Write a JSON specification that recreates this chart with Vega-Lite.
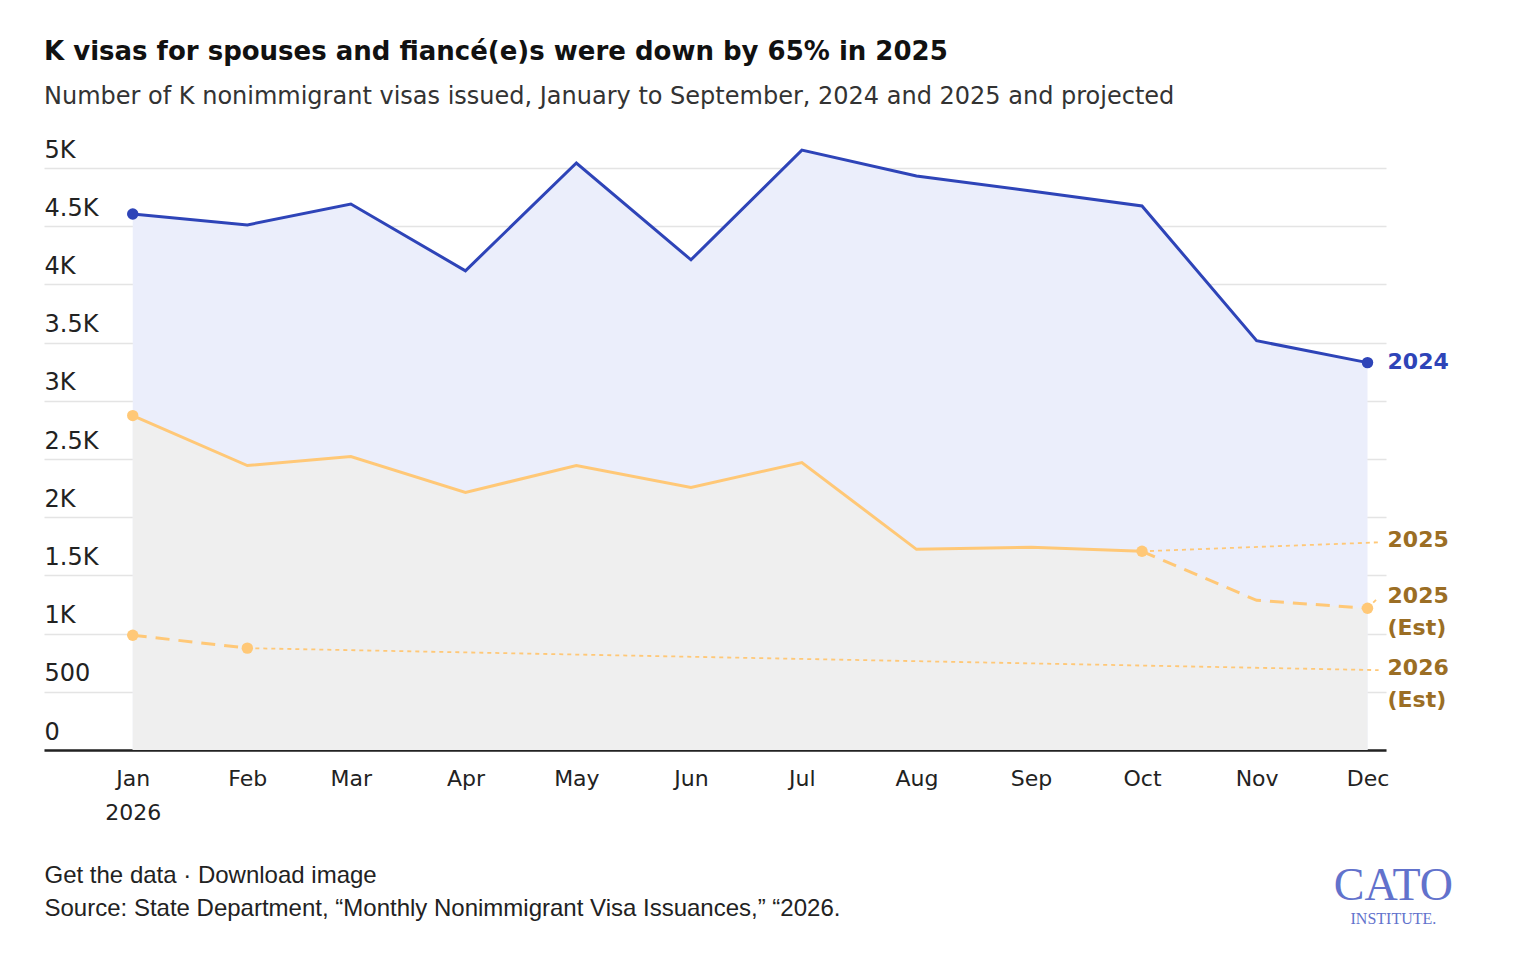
{
  "$schema": "https://vega.github.io/schema/vega-lite/v6.json",
  "width": 1342,
  "height": 582,
  "autosize": {"type": "none"},
  "padding": {"left": 44, "top": 168, "right": 130, "bottom": 224},
  "background": "white",
  "config": {
    "view": {"stroke": null},
    "font": "DejaVu Sans",
    "title": {"font": "DejaVu Sans", "color": "#111111"}
  },
  "title": {
    "text": "K visas for spouses and fiancé(e)s were down by 65% in 2025",
    "subtitle": "Number of K nonimmigrant visas issued, January to September, 2024 and 2025 and projected",
    "anchor": "start",
    "frame": "group",
    "fontSize": 26,
    "fontWeight": "bold",
    "subtitleFontSize": 24,
    "subtitleFont": "DejaVu Sans",
    "subtitleColor": "#333333",
    "subtitlePadding": 20,
    "offset": 29
  },
  "data": {
    "values": [
      {"date": "2026/01/01", "value": 4605, "series": "2024"},
      {"date": "2026/02/01", "value": 4511, "series": "2024"},
      {"date": "2026/03/01", "value": 4691, "series": "2024"},
      {"date": "2026/04/01", "value": 4117, "series": "2024"},
      {"date": "2026/05/01", "value": 5043, "series": "2024"},
      {"date": "2026/06/01", "value": 4211, "series": "2024"},
      {"date": "2026/07/01", "value": 5154, "series": "2024"},
      {"date": "2026/08/01", "value": 4931, "series": "2024"},
      {"date": "2026/09/01", "value": 4803, "series": "2024"},
      {"date": "2026/10/01", "value": 4674, "series": "2024"},
      {"date": "2026/11/01", "value": 3516, "series": "2024"},
      {"date": "2026/12/01", "value": 3328, "series": "2024"},
      {"date": "2026/01/01", "value": 2873, "series": "2025"},
      {"date": "2026/02/01", "value": 2444, "series": "2025"},
      {"date": "2026/03/01", "value": 2521, "series": "2025"},
      {"date": "2026/04/01", "value": 2213, "series": "2025"},
      {"date": "2026/05/01", "value": 2444, "series": "2025"},
      {"date": "2026/06/01", "value": 2256, "series": "2025"},
      {"date": "2026/07/01", "value": 2470, "series": "2025"},
      {"date": "2026/08/01", "value": 1724, "series": "2025"},
      {"date": "2026/09/01", "value": 1741, "series": "2025"},
      {"date": "2026/10/01", "value": 1707, "series": "2025"},
      {"date": "2026/10/01", "value": 1707, "series": "2025est"},
      {"date": "2026/11/01", "value": 1286, "series": "2025est"},
      {"date": "2026/12/01", "value": 1218, "series": "2025est"},
      {"date": "2026/01/01", "value": 986, "series": "2026est"},
      {"date": "2026/02/01", "value": 875, "series": "2026est"},
      {"date": "2026/10/01", "value": 1707, "series": "2025trend"},
      {"date": "2026/12/04", "value": 1784, "series": "2025trend"},
      {"date": "2026/02/01", "value": 875, "series": "2026trend"},
      {"date": "2026/12/04", "value": 686, "series": "2026trend"},
      {"date": "2026/12/01", "value": 1218, "series": "2025conn"},
      {"date": "2026/12/04", "value": 1312, "series": "2025conn"}
    ]
  },
  "encoding": {
    "x": {
      "field": "date",
      "type": "temporal",
      "scale": {
        "domain": [{"year": 2025, "month": 12, "date": 8}, {"year": 2026, "month": 12, "date": 6}]
      },
      "axis": {
        "tickCount": {"interval": "month", "step": 1},
        "labelExpr": "month(datum.value) == 0 ? ['Jan', '2026'] : timeFormat(datum.value, '%b')",
        "labelFontSize": 22,
        "labelColor": "#222222",
        "labelLineHeight": 34,
        "labelPadding": 18,
        "labelFlush": false,
        "labelOverlap": false,
        "ticks": false,
        "grid": false,
        "domainColor": "#222222",
        "domainWidth": 2.5,
        "title": ["Get the data  ·  Download image", "Source: State Department, “Monthly Nonimmigrant Visa Issuances,” “2026."],
        "titleFont": "Liberation Sans",
        "titleFontSize": 24,
        "titleFontWeight": "normal",
        "titleColor": "#222222",
        "titleAnchor": "start",
        "titleAlign": "left",
        "titleBaseline": "middle",
        "titleLineHeight": 33,
        "titleX": 0,
        "titleY": 125
      }
    },
    "y": {
      "field": "value",
      "type": "quantitative",
      "scale": {"domain": [0, 5000]},
      "axis": {
        "values": [0, 500, 1000, 1500, 2000, 2500, 3000, 3500, 4000, 4500, 5000],
        "labelExpr": "datum.value >= 1000 ? format(datum.value / 1000, '~g') + 'K' : datum.label",
        "labelAlign": "left",
        "labelBaseline": "alphabetic",
        "labelOffset": -11,
        "labelPadding": 0,
        "labelFontSize": 24,
        "labelColor": "#222222",
        "ticks": false,
        "domain": false,
        "gridColor": "#e4e4e4",
        "gridWidth": 1.5,
        "title": null
      }
    }
  },
  "layer": [
    {
      "transform": [{"filter": "datum.series == '2024'"}],
      "mark": {"type": "area", "color": "#EBEEFB"}
    },
    {
      "transform": [{"filter": "datum.series == '2025' || (datum.series == '2025est' && month(datum.date) != 9)"}],
      "mark": {"type": "area", "color": "#EFEFEF"}
    },
    {
      "transform": [{"filter": "datum.series == '2024'"}],
      "mark": {"type": "line", "color": "#2E44B8", "strokeWidth": 3}
    },
    {
      "transform": [{"filter": "datum.series == '2025'"}],
      "mark": {"type": "line", "color": "#FFC877", "strokeWidth": 3}
    },
    {
      "transform": [{"filter": "datum.series == '2025est' || datum.series == '2026est'"}],
      "mark": {"type": "line", "color": "#FFC877", "strokeWidth": 3, "strokeDash": [14, 9]},
      "encoding": {"detail": {"field": "series"}}
    },
    {
      "transform": [{"filter": "indexof(['2025trend', '2026trend', '2025conn'], datum.series) >= 0"}],
      "mark": {"type": "line", "color": "#FFC877", "strokeWidth": 1.8, "strokeDash": [4, 4]},
      "encoding": {"detail": {"field": "series"}}
    },
    {
      "transform": [{"filter": "datum.series == '2024' && (month(datum.date) == 0 || month(datum.date) == 11)"}],
      "mark": {"type": "circle", "color": "#2E44B8", "size": 130, "opacity": 1}
    },
    {
      "transform": [{"filter": "(datum.series == '2025' && (month(datum.date) == 0 || month(datum.date) == 9)) || (datum.series == '2025est' && month(datum.date) == 11) || datum.series == '2026est'"}],
      "mark": {"type": "circle", "color": "#FFC877", "size": 130, "opacity": 1}
    },
    {
      "data": {
        "values": [
          {"date": "2026/12/01", "value": 3336, "label": "2024", "group": "a"},
          {"date": "2026/12/01", "value": 1800, "label": "2025", "group": "b"},
          {"date": "2026/12/01", "value": 1320, "label": "2025\n(Est)", "group": "b"},
          {"date": "2026/12/01", "value": 703, "label": "2026\n(Est)", "group": "b"}
        ]
      },
      "mark": {"type": "text", "align": "left", "baseline": "middle", "dx": 20, "fontSize": 22, "fontWeight": "bold", "lineBreak": "\n", "lineHeight": 32},
      "encoding": {
        "text": {"field": "label"},
        "color": {"field": "group", "type": "nominal", "scale": {"domain": ["a", "b"], "range": ["#2E44B8", "#9B6E24"]}, "legend": null}
      }
    },
    {
      "data": {
        "values": [
          {"date": "2026/12/08", "value": -1172, "label": "CATO", "kind": "big"},
          {"date": "2026/12/08", "value": -1455, "label": "INSTITUTE.", "kind": "small"}
        ]
      },
      "mark": {"type": "text", "align": "center", "baseline": "middle", "font": "Liberation Serif", "color": "#6272CC"},
      "encoding": {
        "text": {"field": "label"},
        "size": {"field": "kind", "type": "nominal", "scale": {"domain": ["big", "small"], "range": [46, 16]}, "legend": null}
      }
    }
  ]
}
